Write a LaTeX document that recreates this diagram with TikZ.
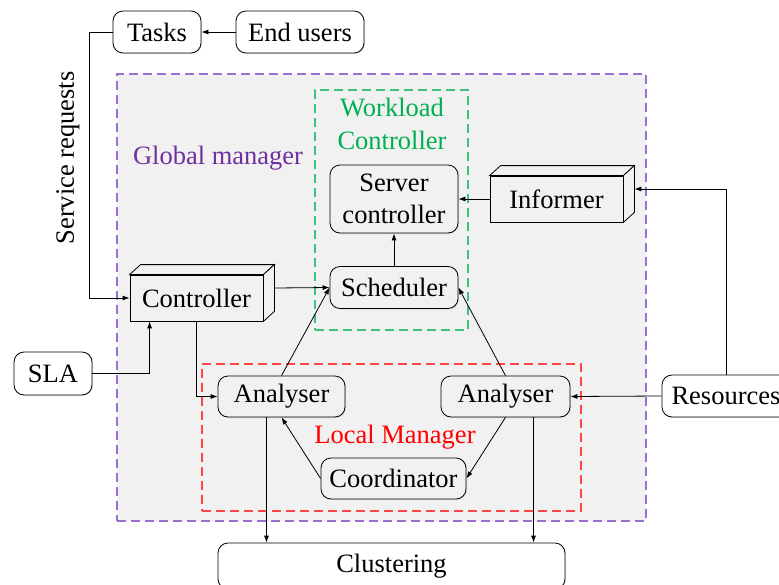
\documentclass[tikz,border=0pt]{standalone}
\usepackage{fontspec}
\setmainfont{Liberation Serif}
\usetikzlibrary{arrows.meta,positioning,shadows,calc}
\usepackage{xcolor}

\definecolor{gmback}{HTML}{F1F1F1}
\definecolor{gmpurple}{HTML}{7030A0}
\definecolor{gmline}{HTML}{9A6FCF}
\definecolor{wcgreen}{HTML}{00B050}
\definecolor{wcline}{HTML}{3CC47C}
\definecolor{lmred}{HTML}{FF0000}
\definecolor{lmline}{HTML}{FF4545}

% top and side faces of a box node
\newcommand{\cubefaces}[1]{%
	\draw[fill=gmback] (#1.north west) -- ++(11,-10) -- ($(#1.north east)+(11,-10)$) -- (#1.north east) -- cycle;
	\draw[fill=gmback] (#1.north east) -- ++(11,-10) -- ($(#1.south east)+(11,-10)$) -- (#1.south east) -- cycle;}

\begin{document}
\begin{tikzpicture}[x=1pt,y=-1pt,line width=0.8pt,
	font=\fontsize{26.5}{32}\selectfont,
	>={Latex[length=7pt,width=5pt]},
	box/.style={draw,rounded corners=10pt,fill=gmback,inner sep=0pt,minimum height=42pt,
		drop shadow={opacity=0.2,shadow xshift=1pt,shadow yshift=-1pt}},
	outbox/.style={box,fill=white},
	cube/.style={draw,fill=gmback,inner sep=0pt,minimum width=133pt,minimum height=46pt},
	region/.style={line width=1.2pt,dash pattern=on 9pt off 5pt,inner sep=0pt}]
	
	\useasboundingbox (0,0) rectangle (779,584);
	
	% Global manager
	\node[region,draw=gmline,fill=gmback,minimum width=529pt,minimum height=447pt] (global) at (381.5,297.5) {};
	\node[text=gmpurple] (globaltxt) at (218,158) {Global manager};
	
	% Workload Controller
	\node[region,draw=wcline,minimum width=153pt,minimum height=240pt] (workload) at (391.5,210) {};
	\node[text=wcgreen,align=center,font=\fontsize{26.5}{33}\selectfont] (workloadtxt) at (392,124) {Workload\\Controller};
	
	% Local Manager
	\node[region,draw=lmline,minimum width=379pt,minimum height=147pt] (local) at (391.5,437.5) {};
	\node[text=lmred] (localtxt) at (395,437) {Local Manager};
	
	% outside
	\node[outbox,minimum width=88pt] (tasks) at (157,32) {Tasks};
	\node[outbox,minimum width=128pt] (users) at (300,32) {End users};
	\node[outbox,minimum width=78pt,minimum height=43pt] (sla) at (53,373.5) {SLA};
	\node[outbox,minimum width=128pt] (res) at (726,396) {Resources};
	\node[outbox,minimum width=347pt,minimum height=46pt] (clus) at (391.5,566) {Clustering};
	\node[rotate=90] (svc) at (68,158) {Service requests};
	
	% boxes
	\node[cube] (ctrl) at (196.5,298) {Controller};
	\cubefaces{ctrl}
	\node[cube] (inf) at (556.5,199) {Informer};
	\cubefaces{inf}
	\node[box,minimum width=128pt,minimum height=68pt,align=center] (srv) at (394,199) {Server\\controller};
	\node[box,minimum width=128pt,minimum height=42pt] (sched) at (394,287.5) {Scheduler};
	\node[box,minimum width=127pt,minimum height=41pt] (anl) at (281.5,396.5) {Analyser};
	\node[box,minimum width=129pt,minimum height=41pt] (anr) at (505.5,396.5) {Analyser};
	\node[box,minimum width=145pt,minimum height=41pt] (coord) at (393.5,478.5) {Coordinator};
	
	% connectors
	\draw[->] (users) -- (tasks);
	\draw[->] (tasks.west) -- ++(-23,0) |- (ctrl.west);
	\draw[->] (sla.east) -| ([xshift=20pt]ctrl.south west);
	\draw[->] (ctrl.south) |- (anl.west);
	\draw[->] ([shift={(11,-10)}]ctrl.east) -- (sched.west);
	\draw[->] (anl.north) -- (sched.west);
	\draw[->] (anr.north) -- (sched.east);
	\draw[->] (sched) -- (srv);
	\draw[->] (inf.west) -- (srv.east);
	\draw[->] (res.north) |- ([shift={(11,-10)}]inf.east);
	\draw[->] (res.west) -- (anr.east);
	\draw[->] (coord.west) -- (anl.south);
	\draw[->] (anr.south) -- (coord.east);
	\draw[->] ([xshift=-15pt]anl.south) -- ([xshift=-15pt]anl.south |- clus.north);
	\draw[->] ([xshift=28pt]anr.south) -- ([xshift=28pt]anr.south |- clus.north);
	
\end{tikzpicture}
\end{document}
